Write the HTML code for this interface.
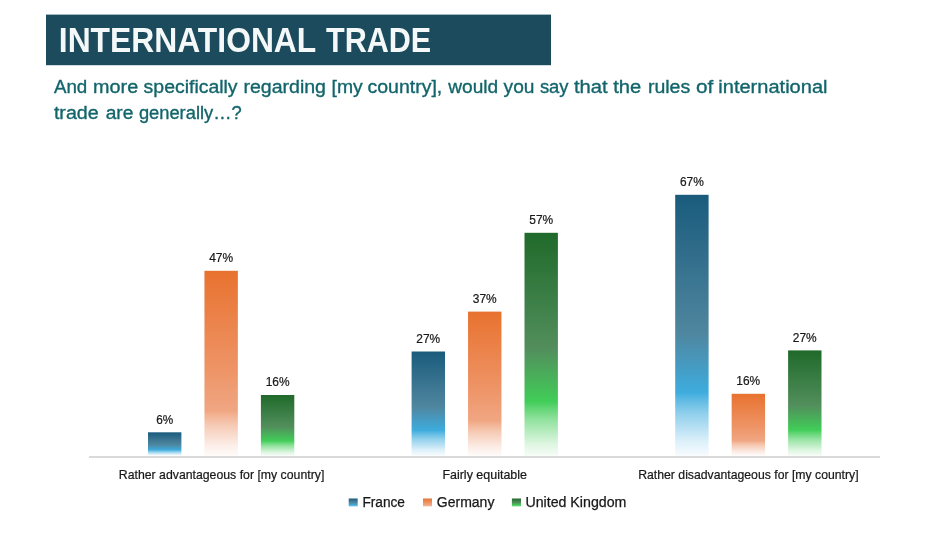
<!DOCTYPE html>
<html lang="en"><head><meta charset="utf-8"><title>International Trade</title>
<style>
html,body{margin:0;padding:0;background:#fff;}
body{width:950px;height:533px;overflow:hidden;font-family:"Liberation Sans",Arial,sans-serif;}
svg{display:block;}
</style></head><body>
<svg width="950" height="533" viewBox="0 0 950 533">
<defs>
<linearGradient id="gb" x1="0" y1="0" x2="0" y2="1">
<stop offset="0.0000" stop-color="#1a5b7c"/>
<stop offset="0.5300" stop-color="#4f869f"/>
<stop offset="0.7570" stop-color="#3eacde"/>
<stop offset="0.7869" stop-color="#5fbae4"/>
<stop offset="0.8396" stop-color="#91d0ec"/>
<stop offset="0.8938" stop-color="#b7e0f3"/>
<stop offset="0.9480" stop-color="#def1fa"/>
<stop offset="1.0000" stop-color="#f6fbfe"/>
</linearGradient>
<linearGradient id="go" x1="0" y1="0" x2="0" y2="1">
<stop offset="0.0000" stop-color="#e8722f"/>
<stop offset="0.5200" stop-color="#ee9365"/>
<stop offset="0.7570" stop-color="#f0a682"/>
<stop offset="0.7869" stop-color="#f3b597"/>
<stop offset="0.8396" stop-color="#f6ccb7"/>
<stop offset="0.8938" stop-color="#f9ddd0"/>
<stop offset="0.9480" stop-color="#fcefe9"/>
<stop offset="1.0000" stop-color="#fefaf8"/>
</linearGradient>
<linearGradient id="gg" x1="0" y1="0" x2="0" y2="1">
<stop offset="0.0000" stop-color="#1f6a2a"/>
<stop offset="0.5200" stop-color="#528e5c"/>
<stop offset="0.7570" stop-color="#41cd58"/>
<stop offset="0.7869" stop-color="#61d574"/>
<stop offset="0.8396" stop-color="#92e29f"/>
<stop offset="0.8938" stop-color="#b8ecc0"/>
<stop offset="0.9480" stop-color="#def6e1"/>
<stop offset="1.0000" stop-color="#f5fcf6"/>
</linearGradient>
<linearGradient id="lb" x1="0" y1="0" x2="0" y2="1">
<stop offset="0" stop-color="#1a5b7c"/>
<stop offset="0.5" stop-color="#4f869f"/>
<stop offset="0.82" stop-color="#3eacde"/>
<stop offset="1" stop-color="#91d0ec"/>
</linearGradient>
<linearGradient id="lo" x1="0" y1="0" x2="0" y2="1">
<stop offset="0" stop-color="#e8722f"/>
<stop offset="0.5" stop-color="#ee9365"/>
<stop offset="0.82" stop-color="#f0a682"/>
<stop offset="1" stop-color="#f6ccb7"/>
</linearGradient>
<linearGradient id="lg" x1="0" y1="0" x2="0" y2="1">
<stop offset="0" stop-color="#1f6a2a"/>
<stop offset="0.5" stop-color="#528e5c"/>
<stop offset="0.82" stop-color="#41cd58"/>
<stop offset="1" stop-color="#92e29f"/>
</linearGradient>
</defs>
<rect x="0" y="0" width="950" height="533" fill="#ffffff"/>
<rect x="46" y="14.6" width="505" height="50.6" fill="#1b4b5d"/>
<g font-family="Liberation Sans, Arial, sans-serif" font-weight="bold" font-size="35" fill="#f4f8f8">
<text x="58.8" y="52" textLength="257.5" lengthAdjust="spacingAndGlyphs">INTERNATIONAL</text>
<text x="326" y="52" textLength="105.2" lengthAdjust="spacingAndGlyphs">TRADE</text>
</g>
<g font-family="Liberation Sans, Arial, sans-serif" font-size="18.9" fill="#12656b" stroke="#12656b" stroke-width="0.35">
<text x="53.9" y="93.4" textLength="33.4" lengthAdjust="spacingAndGlyphs">And</text>
<text x="93.1" y="93.4" textLength="45.1" lengthAdjust="spacingAndGlyphs">more</text>
<text x="143.6" y="93.4" textLength="94.0" lengthAdjust="spacingAndGlyphs">specifically</text>
<text x="243.4" y="93.4" textLength="82.6" lengthAdjust="spacingAndGlyphs">regarding</text>
<text x="331.5" y="93.4" textLength="31.2" lengthAdjust="spacingAndGlyphs">[my</text>
<text x="367.5" y="93.4" textLength="74.8" lengthAdjust="spacingAndGlyphs">country],</text>
<text x="448.3" y="93.4" textLength="49.9" lengthAdjust="spacingAndGlyphs">would</text>
<text x="503.6" y="93.4" textLength="30.9" lengthAdjust="spacingAndGlyphs">you</text>
<text x="539.9" y="93.4" textLength="28.7" lengthAdjust="spacingAndGlyphs">say</text>
<text x="574.0" y="93.4" textLength="33.7" lengthAdjust="spacingAndGlyphs">that</text>
<text x="613.2" y="93.4" textLength="28.0" lengthAdjust="spacingAndGlyphs">the</text>
<text x="647.9" y="93.4" textLength="42.3" lengthAdjust="spacingAndGlyphs">rules</text>
<text x="695.9" y="93.4" textLength="17.3" lengthAdjust="spacingAndGlyphs">of</text>
<text x="718.3" y="93.4" textLength="109.2" lengthAdjust="spacingAndGlyphs">international</text>
<text x="53.9" y="119.2" textLength="44.8" lengthAdjust="spacingAndGlyphs">trade</text>
<text x="105.7" y="119.2" textLength="27.7" lengthAdjust="spacingAndGlyphs">are</text>
<text x="138.9" y="119.2" textLength="102.8" lengthAdjust="spacingAndGlyphs">generally…?</text>
</g>
<rect x="89" y="456" width="791" height="2" fill="#dadada"/>
<rect x="148.0" y="432.3" width="33.4" height="23.3" fill="url(#gb)"/>
<rect x="204.45" y="270.8" width="33.4" height="184.8" fill="url(#go)"/>
<rect x="260.9" y="395.0" width="33.4" height="60.6" fill="url(#gg)"/>
<rect x="411.6" y="351.5" width="33.4" height="104.1" fill="url(#gb)"/>
<rect x="468.05" y="311.6" width="33.4" height="144.0" fill="url(#go)"/>
<rect x="524.5" y="232.8" width="33.4" height="222.8" fill="url(#gg)"/>
<rect x="675.2" y="194.8" width="33.4" height="260.8" fill="url(#gb)"/>
<rect x="731.65" y="393.8" width="33.4" height="61.8" fill="url(#go)"/>
<rect x="788.1" y="350.4" width="33.4" height="105.2" fill="url(#gg)"/>
<g font-family="Liberation Sans, Arial, sans-serif" font-size="12.8" fill="#181818" stroke="#181818" stroke-width="0.22" text-anchor="middle">
<text x="164.7" y="423.7" textLength="17.0" lengthAdjust="spacingAndGlyphs">6%</text>
<text x="221.1" y="262.2" textLength="23.9" lengthAdjust="spacingAndGlyphs">47%</text>
<text x="277.6" y="386.4" textLength="23.9" lengthAdjust="spacingAndGlyphs">16%</text>
<text x="428.3" y="342.9" textLength="23.9" lengthAdjust="spacingAndGlyphs">27%</text>
<text x="484.8" y="303.0" textLength="23.9" lengthAdjust="spacingAndGlyphs">37%</text>
<text x="541.2" y="224.2" textLength="23.9" lengthAdjust="spacingAndGlyphs">57%</text>
<text x="691.9" y="186.2" textLength="23.9" lengthAdjust="spacingAndGlyphs">67%</text>
<text x="748.3" y="385.2" textLength="23.9" lengthAdjust="spacingAndGlyphs">16%</text>
<text x="804.8" y="341.8" textLength="23.9" lengthAdjust="spacingAndGlyphs">27%</text>
</g>
<g font-family="Liberation Sans, Arial, sans-serif" font-size="12.7" fill="#181818" stroke="#181818" stroke-width="0.22">
<text x="118.8" y="479.2" textLength="205.5" lengthAdjust="spacingAndGlyphs">Rather advantageous for [my country]</text>
<text x="442.4" y="479.2" textLength="84.6" lengthAdjust="spacingAndGlyphs">Fairly equitable</text>
<text x="638.2" y="479.2" textLength="220.4" lengthAdjust="spacingAndGlyphs">Rather disadvantageous for [my country]</text>
</g>
<rect x="348.7" y="498.5" width="9" height="8" fill="url(#lb)"/>
<rect x="423" y="498.5" width="9" height="8" fill="url(#lo)"/>
<rect x="511.9" y="498.5" width="9.1" height="8" fill="url(#lg)"/>
<g font-family="Liberation Sans, Arial, sans-serif" font-size="13.8" fill="#181818" stroke="#181818" stroke-width="0.25">
<text x="362.4" y="507.2" textLength="42.6" lengthAdjust="spacingAndGlyphs">France</text>
<text x="436.8" y="507.2" textLength="57.6" lengthAdjust="spacingAndGlyphs">Germany</text>
<text x="525.4" y="507.2" textLength="101" lengthAdjust="spacingAndGlyphs">United Kingdom</text>
</g>
</svg></body></html>
